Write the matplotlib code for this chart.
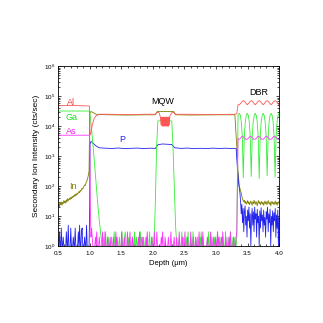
import matplotlib
matplotlib.use("Agg")
import matplotlib.pyplot as plt
import numpy as np
from matplotlib.ticker import LogLocator, MultipleLocator, NullFormatter

plt.rcParams["font.family"] = ["Liberation Sans", "DejaVu Sans"]
plt.rcParams["mathtext.fontset"] = "custom"
plt.rcParams["mathtext.rm"] = "Liberation Sans"

# ---- data ----
# background noise written as digit strings (counts 1..9)
p_noise_left = "11311411211113115111411121141111315113411121151111"
as_noise_mid = ("4211112131" "1121111311" "1311121112" "1111211131" "2111111311"
                "1211113111" "3111211111" "1112131111" "2111121311" "1111211131"
                "1131111112" "1311121111" "2111311112" "1112111311" "1121113111"
                "2111131112" "1112111131" "1121311111" "1211113111" "2111211312"
                "1112131111" "2111121311" "1121112")
ga_noise_a = ("2111311121" "1112111311" "2111121113" "1112311121" "2111121131"
              "1211121312" "1121111211" "13111211")
ga_noise_b = ("1112111312" "1111121311" "1211131112" "1121112131" "1211111121"
              "3111211121" "2111311121" "1112111311" "1211131112" "11211")

# DBR region sampling (common grid for the oscillating signals)
dbr_ga = [27000, 23000, 14000, 4500, 190, 4500, 14000, 23000,
          27000, 23000, 14000, 4600, 210, 4600, 14000, 23000,
          27000, 23000, 14000, 4400, 180, 4400, 14000, 23000,
          27000, 23000, 14000, 4600, 220, 4600, 14000, 23000,
          27000, 23000, 14000, 4500, 200, 4500, 14000, 23000, 27000]
dbr_al = [52000, 56000, 62000, 68000, 71000, 68000, 62000, 56000,
          52000, 56000, 62000, 68000, 71000, 68000, 62000, 56000,
          52000, 56000, 62000, 68000, 71000, 68000, 62000, 56000,
          52000, 56000, 62000, 68000, 71000, 68000, 62000, 56000,
          52000, 56000, 62000, 68000, 71000, 68000, 62000, 56000, 52000]
dbr_as = [3700, 3900, 4300, 4600, 4500, 4200, 3800, 3600,
          3700, 3900, 4300, 4600, 4500, 4200, 3800, 3600,
          3700, 3900, 4300, 4600, 4500, 4200, 3800, 3600,
          3700, 3900, 4300, 4600, 4500, 4200, 3800, 3600,
          3700, 3900, 4300, 4600, 4500, 4200, 3800, 3600, 3700]

p_noise_dbr = [60, 30, 12, 25, 6, 18, 3, 14, 22, 5, 10, 2, 16, 7, 20, 4, 12, 1, 9, 18,
               5, 14, 3, 20, 8, 12, 2, 17, 6, 10, 1, 15, 4, 19, 7, 11, 3, 16, 5, 9,
               2, 14, 8, 20, 3, 12, 6, 17, 1, 10, 5, 15, 3, 13, 7, 18, 2, 11, 4, 16, 1, 9]
in_noise_dbr = [60, 45, 38, 33, 30, 34, 27, 31, 25, 29, 33, 26, 30, 24, 28, 32, 27, 23, 30, 26,
                34, 28, 25, 31, 27, 22, 29, 33, 26, 30, 24, 28, 31, 25, 29, 23, 27, 32, 26, 30,
                24, 28, 33, 27, 25, 30, 22, 28, 31, 26, 29, 24, 27, 32, 25, 29, 23, 28, 30, 26]
in_left = [22, 26, 20, 28, 24, 30, 23, 29, 26, 33, 28, 32, 27, 35, 30, 38, 33, 36, 40, 35,
           42, 38, 45, 41, 48, 44, 52, 47, 55, 50, 58, 54, 62, 66, 60, 72, 68, 78, 85, 80,
           92, 100, 110, 105, 125, 140, 160, 190, 240, 320]

al_depth = [0.5, 0.7, 0.9, 0.995, 1.0, 1.005, 1.02, 1.04, 1.07, 1.1, 1.15, 1.3, 1.6, 1.9,
            2.04, 2.07, 2.1, 2.12]
al_counts = [4.8e4, 4.9e4, 4.8e4, 4.7e4, 2.0e4, 5e3, 6e3, 1.1e4, 1.8e4, 2.2e4, 2.5e4,
             2.5e4, 2.45e4, 2.5e4, 2.5e4, 2.9e4, 2.8e4, 2.0e4]
al_mqw = [1.1e4, 2.0e4, 1.1e4, 1.9e4, 1.0e4, 2.0e4, 1.1e4, 2.0e4, 1.0e4, 1.9e4, 1.1e4,
          2.0e4, 1.0e4, 2.0e4, 1.1e4, 1.9e4, 1.0e4, 2.0e4, 1.1e4, 2.0e4, 1.0e4, 1.9e4,
          1.1e4, 2.0e4, 1.0e4, 2.0e4, 1.1e4]
al_depth2 = [2.27, 2.3, 2.33, 2.36, 2.6, 3.0, 3.3, 3.33, 3.35]
al_counts2 = [2.2e4, 2.8e4, 2.9e4, 2.5e4, 2.5e4, 2.45e4, 2.5e4, 2.6e4, 5.2e4]

ga_depth = [0.5, 0.8, 0.995, 1.0, 1.03, 1.06, 1.09, 1.12, 1.15, 1.18, 1.2]
ga_counts = [3.2e4, 3.2e4, 3.2e4, 3.0e4, 8e3, 1.5e3, 250, 40, 8, 2, 1]
ga_mqw_depth = [2.02, 2.04, 2.06, 2.08, 2.3, 2.32, 2.34, 2.36, 2.38]
ga_mqw_counts = [1, 30, 2e3, 1.5e4, 1.5e4, 2e3, 100, 5, 1]
ga_dbr_start = [3.33, 3.35]
ga_dbr_start_counts = [2, 2.4e4]

as_depth = [0.5, 0.8, 0.995, 1.0, 1.01, 1.02]
as_counts = [5e3, 5e3, 5e3, 4e3, 20, 2]
as_dbr_start = [3.33, 3.35]
as_dbr_start_counts = [3, 3.8e3]

p_depth = [1.0, 1.005, 1.02, 1.04, 1.07, 1.1, 1.15, 1.25, 1.35, 1.45, 1.55, 1.65, 1.75,
           1.85, 1.95, 2.04, 2.08, 2.15, 2.22, 2.3, 2.35, 2.45, 2.55, 2.65, 2.75, 2.85,
           2.95, 3.05, 3.15, 3.25, 3.32, 3.34, 3.36]
p_counts = [20, 2500, 3100, 2900, 2500, 2200, 1900, 1850, 1800, 1870, 1790, 1830, 1860,
            1800, 1840, 1820, 2400, 2550, 2500, 2450, 1900, 1820, 1860, 1790, 1830, 1800,
            1850, 1810, 1840, 1800, 1780, 400, 120]

in_depth = [0.995, 1.0, 1.02, 1.06, 1.1, 1.3, 1.6, 1.9, 2.04, 2.07, 2.33, 2.36, 2.6,
            3.0, 3.3, 3.33, 3.35, 3.37]
in_counts = [3000, 2.6e4, 3.1e4, 2.8e4, 2.5e4, 2.4e4, 2.35e4, 2.4e4, 2.4e4, 3.1e4, 3.1e4,
             2.4e4, 2.35e4, 2.4e4, 2.4e4, 2e3, 300, 100]

labels = [("Al", 0.71, 6.3e4, "#ff4444"), ("Ga", 0.71, 2.0e4, "#22dd22"),
          ("As", 0.71, 6.8e3, "#ee22ee"), ("In", 0.74, 95, "#808000"),
          ("P", 1.52, 3.7e3, "#2222ee"), ("MQW", 2.15, 6.8e4, "black"),
          ("DBR", 3.68, 1.36e5, "black")]


def digits(s):
    return [int(c) for c in s]


dbr_x = np.linspace(3.37, 4.0, len(dbr_ga))

# assemble series
p_x = np.concatenate([np.linspace(0.5, 0.99, len(p_noise_left)), p_depth,
                      np.linspace(3.38, 4.0, len(p_noise_dbr))])
p_y = np.concatenate([digits(p_noise_left), p_counts, p_noise_dbr])

in_x = np.concatenate([np.linspace(0.5, 0.99, len(in_left)), in_depth,
                       np.linspace(3.4, 4.0, len(in_noise_dbr))])
in_y = np.concatenate([in_left, in_counts, in_noise_dbr])

as_x = np.concatenate([as_depth, np.linspace(1.03, 3.32, len(as_noise_mid)),
                       as_dbr_start, dbr_x])
as_y = np.concatenate([as_counts, digits(as_noise_mid), as_dbr_start_counts, dbr_as])

ga_x = np.concatenate([ga_depth, np.linspace(1.21, 2.01, len(ga_noise_a)), ga_mqw_depth,
                       np.linspace(2.39, 3.32, len(ga_noise_b)), ga_dbr_start, dbr_x])
ga_y = np.concatenate([ga_counts, digits(ga_noise_a), ga_mqw_counts, digits(ga_noise_b),
                       ga_dbr_start_counts, dbr_ga])

al_x = np.concatenate([al_depth, np.linspace(2.13, 2.26, len(al_mqw)), al_depth2, dbr_x])
al_y = np.concatenate([al_counts, al_mqw, al_counts2, dbr_al])

# ---- plot ----
fig = plt.figure(figsize=(3.23, 3.23), dpi=100)
ax = fig.add_axes([0.18, 0.238, 0.684, 0.557])

lw = 0.6
ax.plot(in_x, in_y, color="#808000", lw=lw)
ax.plot(p_x, p_y, color="#2222ee", lw=lw)
ax.plot(ga_x, ga_y, color="#33ee33", lw=lw)
ax.plot(as_x, as_y, color="#ff33ff", lw=lw)
ax.plot(al_x, al_y, color="#ff5555", lw=lw)

for txt, x, y, c in labels:
    ax.text(x, y, txt, color=c, fontsize=6.5, ha="center", va="center")

ax.set_yscale("log")
ax.set_xlim(0.5, 4.0)
ax.set_ylim(1, 1e6)
ax.xaxis.set_major_locator(MultipleLocator(0.5))
ax.xaxis.set_minor_locator(MultipleLocator(0.1))
ax.yaxis.set_major_locator(LogLocator(base=10, numticks=10))
ax.yaxis.set_minor_locator(LogLocator(base=10, subs=np.arange(2, 10), numticks=20))
ax.yaxis.set_minor_formatter(NullFormatter())
ax.tick_params(which="both", direction="in", top=True, right=True, labelsize=4.5,
               width=0.5)
ax.tick_params(axis="x", pad=3.5)
ax.tick_params(axis="y", pad=2)
ax.tick_params(which="major", length=2.5)
ax.tick_params(which="minor", length=1.3)
for s in ax.spines.values():
    s.set_linewidth(0.6)

ax.set_xlabel("Depth (\u03bcm)", fontsize=5.5, labelpad=3)
ax.set_ylabel("Secondary Ion Intensity (cts/sec)", fontsize=6, labelpad=3)

fig.savefig("out.png", dpi=100)
